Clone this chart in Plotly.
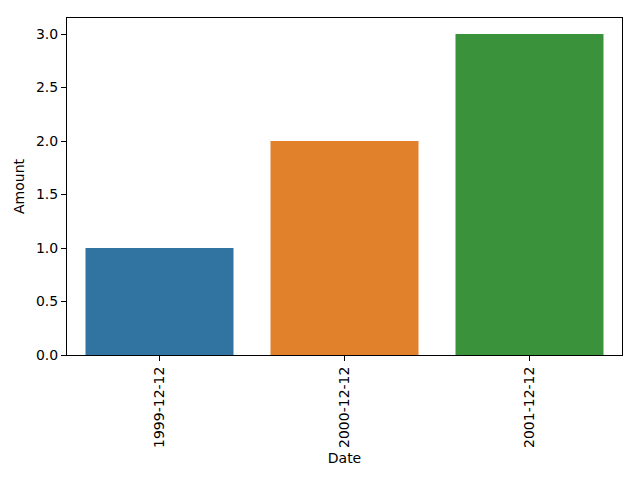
import plotly.graph_objects as go

dates = ["1999-12-12", "2000-12-12", "2001-12-12"]
amounts = [1, 2, 3]
colors = ["#3274a1", "#e1812c", "#3a923a"]
y_ticks = [0.0, 0.5, 1.0, 1.5, 2.0, 2.5, 3.0]

fig = go.Figure(go.Bar(x=dates, y=amounts, marker=dict(color=colors, line=dict(width=0)), width=0.8))

font = dict(family="DejaVu Sans", size=14, color="black")
fig.update_layout(
    width=640, height=480,
    margin=dict(l=67, r=18, t=18, b=125),
    plot_bgcolor="white", paper_bgcolor="white",
    font=font, showlegend=False, bargap=0.2,
)
fig.update_xaxes(
    type="category", range=[-0.5, 2.5], tickangle=-90,
    showline=True, linecolor="black", linewidth=1, mirror=True,
    ticks="outside", ticklen=5, tickcolor="black", showgrid=False,
    tickfont=font,
    title=dict(text="Date", standoff=6, font=font),
)
fig.update_yaxes(
    range=[0, 3.15], tickvals=y_ticks, ticktext=[f"{v:.1f}" for v in y_ticks],
    showline=True, linecolor="black", linewidth=1, mirror=True,
    ticks="outside", ticklen=5, tickcolor="black", showgrid=False, zeroline=False,
    tickfont=font,
    title=dict(text="Amount", standoff=8, font=font),
)
fig.write_html("out.html", config={"displayModeBar": False},
               post_script="document.body.style.margin='0';")
